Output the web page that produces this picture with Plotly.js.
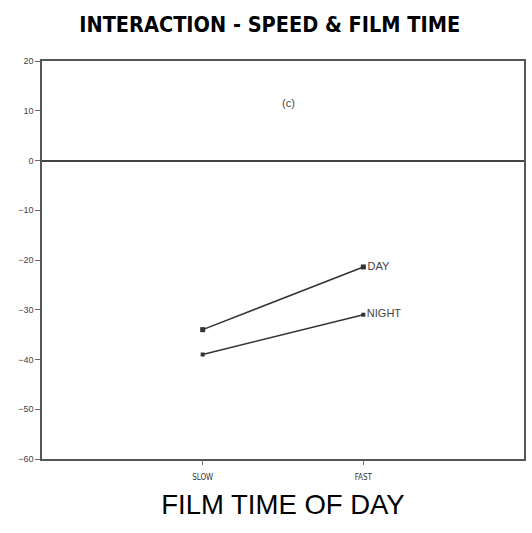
<!DOCTYPE html>
<html>
<head>
<meta charset="utf-8">
<script src="https://cdn.plot.ly/plotly-3.0.1.min.js"></script>
<style>
  html, body { margin: 0; padding: 0; background: #fff; }
  #chart { width: 532px; height: 533px; }
</style>
</head>
<body>
<div id="chart"></div>
<script>
var speeds = ['SLOW', 'FAST'];
var dayValues = [-34, -21.4];
var nightValues = [-39, -31];
var lineLabels = ['DAY', 'NIGHT'];
var yTicks = [20, 10, 0, -10, -20, -30, -40, -50, -60];

var day = {
  x: speeds,
  y: dayValues,
  name: lineLabels[0],
  type: 'scatter',
  mode: 'lines+markers+text',
  text: ['', lineLabels[0]],
  textposition: 'middle right',
  textfont: { family: 'Liberation Sans', size: 11, color: '#444' },
  line: { color: '#333', width: 1.5 },
  marker: { color: '#333', size: 5, symbol: 'square' },
  cliponaxis: false
};

var night = {
  x: speeds,
  y: nightValues,
  name: lineLabels[1],
  type: 'scatter',
  mode: 'lines+markers+text',
  text: ['', lineLabels[1]],
  textposition: 'middle right',
  textfont: { family: 'Liberation Sans', size: 11, color: '#444' },
  line: { color: '#333', width: 1.5 },
  marker: { color: '#333', size: 4, symbol: 'square' },
  cliponaxis: false
};

var layout = {
  width: 532,
  height: 533,
  margin: { l: 42, r: 8, t: 61, b: 74 },
  paper_bgcolor: '#fff',
  plot_bgcolor: '#fff',
  showlegend: false,
  title: {
    text: 'INTERACTION - SPEED &amp; FILM TIME',
    font: { family: 'DejaVu Sans Condensed, Liberation Sans', size: 21.5, color: '#000', weight: 'bold' },
    x: 0.507,
    xanchor: 'center',
    y: 0.955,
    yanchor: 'middle'
  },
  xaxis: {
    type: 'category',
    range: [-1, 2],
    showgrid: false,
    zeroline: false,
    showline: true,
    mirror: true,
    linecolor: '#555',
    linewidth: 1.5,
    ticks: 'outside',
    ticklen: 4,
    tickcolor: '#777',
    ticklabelstandoff: 6,
    tickfont: { family: 'DejaVu Sans Condensed, Liberation Sans', size: 8, color: '#333' },
    title: {
      text: 'FILM TIME OF DAY',
      font: { family: 'Liberation Sans', size: 27.5, color: '#000' },
      standoff: 13
    }
  },
  yaxis: {
    range: [-60, 20],
    tickvals: yTicks,
    showgrid: false,
    zeroline: true,
    zerolinecolor: '#444',
    zerolinewidth: 1.5,
    showline: true,
    mirror: true,
    linecolor: '#555',
    linewidth: 1.5,
    ticks: 'outside',
    ticklen: 5,
    tickcolor: '#666',
    tickfont: { family: 'Liberation Sans', size: 9, color: '#444' }
  },
  annotations: [{
    text: '(c)',
    xref: 'paper',
    yref: 'paper',
    x: 0.512,
    y: 0.915,
    showarrow: false,
    font: { family: 'Liberation Sans', size: 11, color: '#444' }
  }]
};

Plotly.newPlot('chart', [day, night], layout, { displayModeBar: false });
</script>
</body>
</html>
